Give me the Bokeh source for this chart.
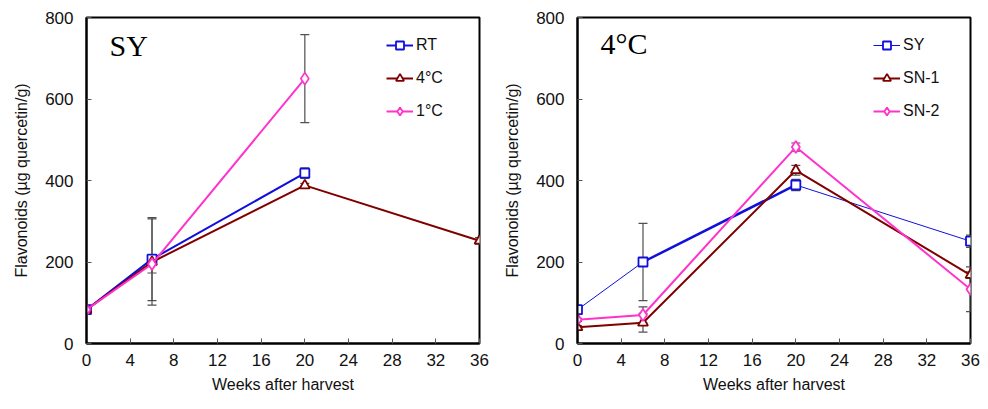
from bokeh.plotting import figure
from bokeh.layouts import row
from bokeh.models import (Legend, LegendItem, Label, Whisker, ColumnDataSource,
                          TeeHead, FixedTicker, Range1d)
from bokeh.embed import file_html
from bokeh.resources import INLINE

# ---------------- data ----------------
x_ticks = [0, 4, 8, 12, 16, 20, 24, 28, 32, 36]
y_ticks = [0, 200, 400, 600, 800]

# Left panel: cultivar SY at three storage temperatures
rt_weeks = [0, 6, 20]
rt_vals = [83, 207, 418]
rt_err = [0, 102, 13]

c4_weeks = [0, 6, 20, 36]
c4_vals = [83, 200, 388, 252]
c4_err = [0, 106, 5, 8]

c1_weeks = [0, 6, 20]
c1_vals = [83, 195, 650]
c1_err = [0, 22, 108]

# Right panel: 4 °C storage, three cultivars
sy_weeks = [0, 6, 20, 36]
sy_vals = [83, 200, 389, 251]
sy_err = [4, 95, 14, 15]
sy_seg_width = [1, 2.5, 1]

sn1_weeks = [0, 6, 20, 36]
sn1_vals = [40, 51, 425, 168]
sn1_err = [4, 23, 12, 8]

sn2_weeks = [0, 6, 20, 36]
sn2_vals = [58, 70, 482, 133]
sn2_err = [4, 20, 10, 55]

BLUE = "#1010DC"
RED = "#800000"
PINK = "#FF33CC"
ERR = "#505050"
FONT = "Liberation Sans"


def base_fig(border_left, border_top, border_bottom, border_right):
    p = figure(width=494, height=409, output_backend="svg", toolbar_location=None,
               x_range=Range1d(0, 36), y_range=Range1d(0, 800),
               min_border_left=border_left, min_border_top=border_top,
               min_border_bottom=border_bottom, min_border_right=border_right)
    p.grid.visible = False
    p.outline_line_color = "black"
    p.outline_line_width = 2
    p.background_fill_color = "white"
    p.border_fill_color = "white"
    for ax in (p.xaxis[0], p.yaxis[0]):
        ax.axis_line_color = "black"
        ax.axis_line_width = 2
        ax.major_tick_in = 5
        ax.major_tick_out = 0
        ax.minor_tick_line_color = None
        ax.major_tick_line_color = "#555555"
        ax.major_label_text_font = FONT
        ax.major_label_text_font_size = "17px"
        ax.major_label_text_color = "#111111"
        ax.axis_label_text_font = FONT
        ax.axis_label_text_font_size = "16px"
        ax.axis_label_text_font_style = "normal"
        ax.axis_label_text_color = "#111111"
    p.xaxis.ticker = FixedTicker(ticks=x_ticks)
    p.yaxis.ticker = FixedTicker(ticks=y_ticks)
    p.xaxis.axis_label = "Weeks after harvest"
    p.yaxis.axis_label = "Flavonoids (µg quercetin/g)"
    p.xaxis.major_label_standoff = 10
    p.yaxis.major_label_standoff = 13
    p.xaxis.axis_label_standoff = 7
    p.yaxis.axis_label_standoff = 12
    return p


def add_err(p, xs, ys, es):
    src = ColumnDataSource(dict(x=xs, lo=[y - e for y, e in zip(ys, es)],
                                hi=[y + e for y, e in zip(ys, es)]))
    w = Whisker(base="x", lower="lo", upper="hi", source=src,
                line_color=ERR, line_width=1.2,
                upper_head=TeeHead(size=9, line_color=ERR, line_width=1.2),
                lower_head=TeeHead(size=9, line_color=ERR, line_width=1.2))
    p.add_layout(w)


def add_series(p, xs, ys, color, marker, size, lw=2, seg_widths=None):
    if seg_widths is None:
        lr = p.line(xs, ys, line_color=color, line_width=lw)
        leg_line = lr
    else:
        leg_line = None
        for i, wdt in enumerate(seg_widths):
            r = p.line(xs[i:i + 2], ys[i:i + 2], line_color=color, line_width=wdt)
            if leg_line is None:
                leg_line = r
    sr = p.scatter(xs, ys, marker=marker, size=size, line_color=color,
                   fill_color="white", line_width=1.8)
    return [leg_line, sr]


def add_legend(p, items, x, y):
    leg = Legend(items=items, location=(x, y), margin=0, padding=0,
                 spacing=13, label_height=20, glyph_height=20, glyph_width=27,
                 label_standoff=3, border_line_color=None,
                 background_fill_alpha=0,
                 label_text_font=FONT, label_text_font_size="16px",
                 label_text_color="#111111")
    p.add_layout(leg, "center")


# ---------------- left panel ----------------
p1 = base_fig(86, 16, 66, 15)
r_rt = add_series(p1, rt_weeks, rt_vals, BLUE, "square", 9)
r_c4 = add_series(p1, c4_weeks, c4_vals, RED, "triangle", 10)
r_c1 = add_series(p1, c1_weeks, c1_vals, PINK, "diamond", 12)
add_err(p1, rt_weeks, rt_vals, rt_err)
add_err(p1, c4_weeks, c4_vals, c4_err)
add_err(p1, c1_weeks, c1_vals, c1_err)
add_legend(p1, [LegendItem(label="RT", renderers=r_rt),
                LegendItem(label="4°C", renderers=r_c4),
                LegendItem(label="1°C", renderers=r_c1)], 300, 222)
p1.add_layout(Label(x=23, y=298, x_units="screen", y_units="screen", text="SY",
                    text_font="Liberation Serif", text_font_size="30px",
                    text_baseline="middle", text_color="black"))

# ---------------- right panel ----------------
p2 = base_fig(83, 17, 62, 18)
r_sy = add_series(p2, sy_weeks, sy_vals, BLUE, "square", 9, seg_widths=sy_seg_width)
r_sn1 = add_series(p2, sn1_weeks, sn1_vals, RED, "triangle", 10)
r_sn2 = add_series(p2, sn2_weeks, sn2_vals, PINK, "diamond", 12)
add_err(p2, sy_weeks, sy_vals, sy_err)
add_err(p2, sn1_weeks, sn1_vals, sn1_err)
add_err(p2, sn2_weeks, sn2_vals, sn2_err)
add_legend(p2, [LegendItem(label="SY", renderers=r_sy),
                LegendItem(label="SN-1", renderers=r_sn1),
                LegendItem(label="SN-2", renderers=r_sn2)], 296, 222)
p2.add_layout(Label(x=23, y=300, x_units="screen", y_units="screen", text="4°C",
                    text_font="Liberation Serif", text_font_size="30px",
                    text_baseline="middle", text_color="black"))

layout = row(p1, p2)
open("out.html", "w").write(file_html(layout, INLINE))
